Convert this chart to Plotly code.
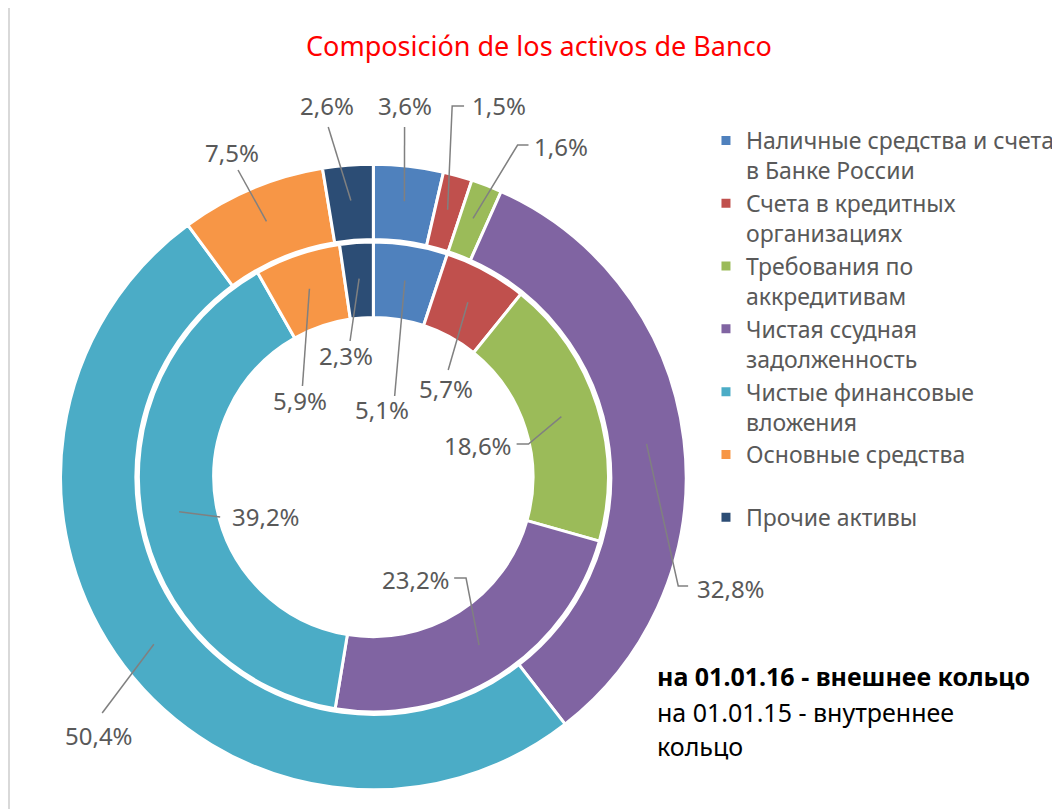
import math
import plotly.graph_objects as go

# ---------------- data ----------------
categories = [
    "Наличные средства и счета<br>в Банке России",
    "Счета в кредитных<br>организациях",
    "Требования по<br>аккредитивам",
    "Чистая ссудная<br>задолженность",
    "Чистые финансовые<br>вложения",
    "Основные средства<br> ",
    "Прочие активы",
]
outer_values = [3.6, 1.5, 1.6, 32.8, 50.4, 7.5, 2.6]   # на 01.01.16
inner_values = [5.1, 5.7, 18.6, 23.2, 39.2, 5.9, 2.3]  # на 01.01.15
colors = ["#4F81BD", "#C0504D", "#9BBB59", "#8064A2", "#4BACC6", "#F79646", "#2C4D75"]

title_text = "Composición de los activos de Banco"
note_lines = ["<b>на 01.01.16 - внешнее кольцо</b>", "на 01.01.15 - внутреннее", "кольцо"]

# ---------------- layout constants (screen pixels) ----------------
OFF = 8                      # default page body margin
W, H = 1060 - OFF, 809 - OFF  # figure size
CX, CY = 376.5, 477
R_OUT, R_OUT_HOLE = 315.5, 239.5
R_MID, R_IN = 237, 161
FONT = "Noto Sans"

# label text centres and leader-line bends (screen pixels) – layout only
outer_label_pos = [(408, 106), (503, 106), (566, 147), (737, 588), (100, 735), (234, 152), (330, 106)]
outer_leader = [[(408, 127)], [(456, 106), (468, 106)], [(522, 145), (533, 145)],
                [(684, 586), (694, 586)], [(103, 713)], [(240, 170)], [(331, 127)]]
inner_label_pos = [(385, 409), (450, 388), (482, 445), (420, 579), (268, 516), (303, 400), (349, 356)]
inner_leader = [[(398, 396)], [(452, 370)], [(533, 444), (521, 444)], [(470, 578), (458, 578)],
                [(222, 517)], [(305, 386)], [(353, 341)]]


def px(sx):
    return (sx - OFF) / W


def py(sy):
    return 1 - (sy - OFF) / H


def dom(r):
    return dict(x=[px(CX - r), px(CX + r)], y=[py(CY + r), py(CY - r)])


fig = go.Figure()
fig.add_trace(go.Pie(
    labels=categories, values=outer_values, sort=False, direction="clockwise", rotation=0,
    hole=R_OUT_HOLE / R_OUT, domain=dom(R_OUT), textinfo="none",
    marker=dict(colors=colors, line=dict(color="white", width=3)),
    name="01.01.16", showlegend=True,
))
fig.add_trace(go.Pie(
    labels=categories, values=inner_values, sort=False, direction="clockwise", rotation=0,
    hole=R_IN / R_MID, domain=dom(R_MID), textinfo="none",
    marker=dict(colors=colors, line=dict(color="white", width=3)),
    name="01.01.15", showlegend=False,
))


def fmt(v):
    return f"{v:.1f}".replace(".", ",") + "%"


def add_labels(values, r_mid, positions, leaders):
    total = sum(values)
    cum = 0.0
    for v, (tx, ty), bends in zip(values, positions, leaders):
        mid = cum + v / 2
        cum += v
        th = 2 * math.pi * mid / total
        axp = CX + r_mid * math.sin(th)
        ayp = CY - r_mid * math.cos(th)
        pts = [(axp, ayp)] + bends
        path = "M " + " L ".join(f"{px(x):.5f},{py(y):.5f}" for x, y in pts)
        fig.add_shape(type="path", xref="paper", yref="paper", path=path,
                      line=dict(color="#808080", width=1.5))
        fig.add_annotation(
            x=px(tx), y=py(ty), xref="paper", yref="paper", xanchor="center", yanchor="middle",
            text=fmt(v), showarrow=False,
            font=dict(family=FONT, size=24, color="#595959"),
        )


add_labels(outer_values, (R_OUT + R_OUT_HOLE) / 2, outer_label_pos, outer_leader)
add_labels(inner_values, (R_MID + R_IN) / 2, inner_label_pos, inner_leader)

# bottom-right note
for line, yy in zip(note_lines, [676, 712, 746]):
    fig.add_annotation(
        x=px(661), y=py(yy), xref="paper", yref="paper", xanchor="left", yanchor="middle",
        text=line, showarrow=False, font=dict(family=FONT, size=25, color="black"),
    )

# chart frame
fig.add_shape(type="rect", xref="paper", yref="paper", x0=px(9), x1=1.05, y0=-0.05, y1=py(6),
              line=dict(color="#D9D9D9", width=2), fillcolor="rgba(0,0,0,0)", layer="below")

fig.update_layout(
    width=W, height=H,
    margin=dict(l=0, r=0, t=0, b=0),
    paper_bgcolor="white", plot_bgcolor="white",
    title=dict(text=title_text, x=px(539), xanchor="center", y=py(47), yanchor="middle",
               font=dict(family=FONT, size=27, color="#FF0000")),
    legend=dict(x=px(752 - 40), xanchor="left", y=py(119), yanchor="top",
                font=dict(family=FONT, size=23, color="#595959"), valign="top",
                traceorder="normal", bgcolor="rgba(0,0,0,0)"),
    font=dict(family=FONT),
)

fig.write_html("out.html")
